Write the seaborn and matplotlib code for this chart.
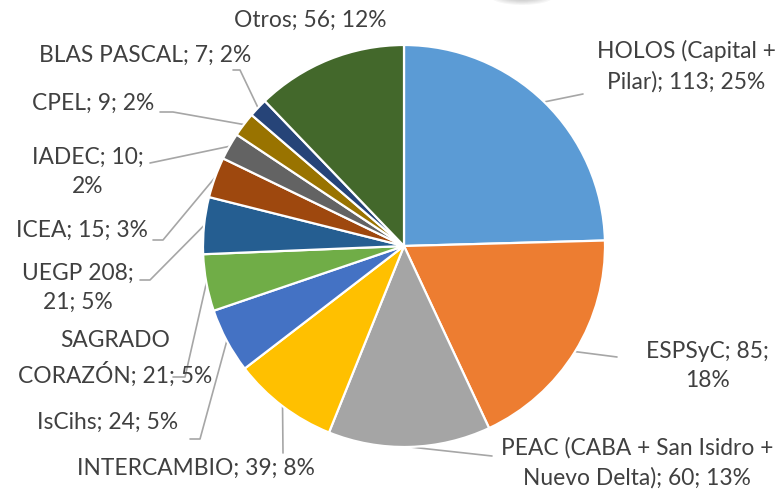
import matplotlib
matplotlib.use("Agg")
import matplotlib.pyplot as plt
import seaborn as sns
import numpy as np
from matplotlib.patches import Ellipse

sns.set_theme(style="white")
plt.rcParams['font.family'] = ['Lato', 'DejaVu Sans']

# ---- data ----
values = [113, 85, 60, 39, 24, 21, 21, 15, 10, 9, 7, 56]
labels = ["HOLOS (Capital +\nPilar); 113; 25%",
          "ESPSyC; 85;\n18%",
          "PEAC (CABA + San Isidro +\nNuevo Delta); 60; 13%",
          "INTERCAMBIO; 39; 8%",
          "IsCihs; 24; 5%",
          "SAGRADO\nCORAZÓN; 21; 5%",
          "UEGP 208;\n21; 5%",
          "ICEA; 15; 3%",
          "IADEC; 10;\n2%",
          "CPEL; 9; 2%",
          "BLAS PASCAL; 7; 2%",
          "Otros; 56; 12%"]
colors = ["#5B9BD5", "#ED7D31", "#A5A5A5", "#FFC000", "#4472C4", "#70AD47",
          "#255E91", "#9E480E", "#636363", "#997300", "#264478", "#43682B"]

W, H = 782, 490
fig = plt.figure(figsize=(W / 100, H / 100), dpi=100)
ax = fig.add_axes([0, 0, 1, 1])

def py(y):
    return H - y

cx, cy, R = 404, py(246), 201
wedges, _ = ax.pie(values, colors=colors, startangle=90, counterclock=False,
                   center=(cx, cy), radius=R,
                   wedgeprops=dict(edgecolor="white", linewidth=1.6))

# label layout: text centre (px) and leader-line points (px) before anchor
layout = [
    ((686, 66), [(583, 94)]),
    ((707, 366), [(617, 357)]),
    ((637, 463), [(492, 456)]),
    ((196, 468), [(283, 453)]),
    ((108, 422), [(190, 439), (200, 439)]),
    ((115, 358), [(173, 377), (185, 377)]),
    ((78, 288), [(140, 280), (150, 280)]),
    ((82, 230), [(153, 240), (163, 240)]),
    ((88, 172), [(150, 163)]),
    ((93, 103), [(160, 112), (173, 112)]),
    ((145, 55), [(233, 70), (240, 70)]),
    ((310, 20), []),
]

for w, lab, (tpos, pts) in zip(wedges, labels, layout):
    ax.text(tpos[0], py(tpos[1]), lab, ha="center", va="center",
            multialignment="center", fontsize=16.4, color="#404040",
            linespacing=1.5)
    if pts:
        mid = np.deg2rad((w.theta1 + w.theta2) / 2)
        ax_x = w.center[0] + w.r * np.cos(mid)
        ax_y = w.center[1] + w.r * np.sin(mid)
        xs = [p[0] for p in pts] + [ax_x]
        ys = [py(p[1]) for p in pts] + [ax_y]
        ax.plot(xs, ys, color="#A6A6A6", lw=1.2, zorder=0.5)

# soft shadow at top edge
for k in range(8):
    ax.add_patch(Ellipse((522, py(-4)), 64 - 6 * k, 18 - 1.8 * k,
                         color="#303030", alpha=0.04, lw=0, zorder=0))

ax.set_xlim(0, W)
ax.set_ylim(0, H)
ax.set_aspect("equal")
ax.axis("off")
fig.savefig("out.png", dpi=100, facecolor="white")
